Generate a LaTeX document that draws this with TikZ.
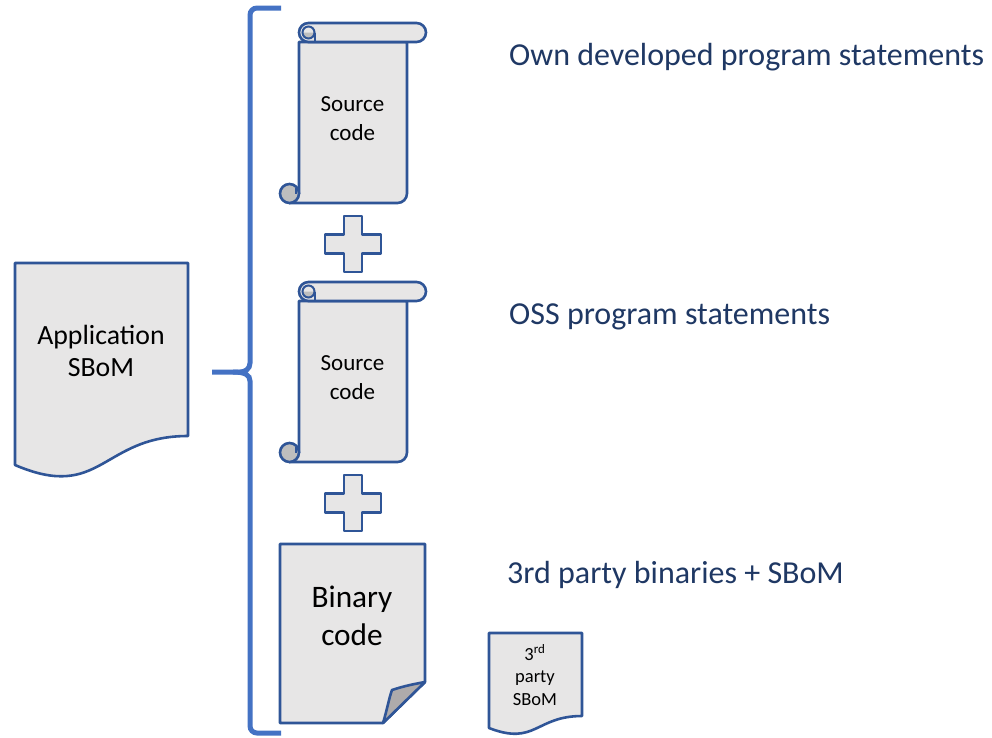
\documentclass[tikz,border=0pt]{standalone}
\usepackage{fontspec}
\setmainfont{Carlito}
\definecolor{shapeline}{RGB}{47,85,151}
\definecolor{shapefill}{RGB}{231,230,230}
\definecolor{curlgray}{RGB}{190,190,190}
\definecolor{foldgray}{RGB}{174,171,171}
\definecolor{bracecol}{RGB}{68,114,196}
\definecolor{navy}{RGB}{31,56,100}
\tikzset{
  shp/.style={draw=shapeline,fill=shapefill,line width=2.6pt,line join=round},
  thinline/.style={draw=shapeline,line width=2pt},
  bracestyle/.style={draw=bracecol,line width=5pt},
  lbl/.style={navy,anchor=base west,font=\fontsize{32}{38}\selectfont,inner sep=0pt},
  intext/.style={align=center,inner sep=0pt,text=black},
}
\begin{document}
\begin{tikzpicture}[x=1pt,y=-1pt]
\useasboundingbox (0,0) rectangle (992,737);
\fill[white] (0,0) rectangle (992,737);

% brace
\draw[bracestyle,rounded corners=7] (281,8) -- (250,8) -- (250,356)
  .. controls (250,369) and (245,372) .. (233,372) -- (212,372);
\draw[bracestyle,rounded corners=7] (233,372) .. controls (245,372) and (250,375) .. (250,388)
  -- (250,733) -- (281,733);

% Application SBoM document shape
\draw[shp] (15,263) -- (188,263) -- (188,436)
  .. controls (101.5,436) and (101.5,502) .. (15,465) -- cycle;
\node[intext,name=app,font=\fontsize{27.8}{32}\selectfont] at (101,351) {Application\\SBoM};

% scrolls
\foreach \t in {23,282}{
\begin{scope}[shift={(280,\t)}]
  \draw[shp] (19,19) -- (19,170.5) -- (9.5,180) -- (117.5,180)
     arc (90:0:9.5) -- (127,19) -- cycle;
  \draw[shp,fill=curlgray] (9.5,170.5) circle (9.5);
  \draw[thinline] (16,170.5) -- (16,165);
  \draw[shp,rounded corners=9.5] (19,0) rectangle (146,19);
  \fill[curlgray] (28.5,9.5) ++(0:6) arc (0:180:6) -- cycle;
  \draw[thinline] (28.5,9.5) circle (6);
  \draw[thinline] (34.5,9.5) -- (34.5,19);
\end{scope}
}
\node[intext,name=src1,font=\fontsize{23}{29}\selectfont] at (352.5,118.5) {Source\\code};
\node[intext,name=src2,font=\fontsize{23}{29}\selectfont] at (352.5,377.5) {Source\\code};

% plus signs
\foreach \cy in {244,503}{
  \draw[shp] (344,\cy-28) -- (362,\cy-28) -- (362,\cy-9.5) -- (381,\cy-9.5)
   -- (381,\cy+9.5) -- (362,\cy+9.5) -- (362,\cy+28) -- (344,\cy+28) -- (344,\cy+9.5)
   -- (325,\cy+9.5) -- (325,\cy-9.5) -- (344,\cy-9.5) -- cycle;
}

% Binary code folded corner
\draw[shp] (280,544) -- (425,544) -- (425,682) -- (383,723) -- (280,723) -- cycle;
\draw[shp,fill=foldgray]
  (383,723) .. controls (387,710) and (389,698) .. (392,690) .. controls (404,686) and (414,684) .. (425,682) -- cycle;
\node[intext,name=bin,font=\fontsize{31.3}{38}\selectfont] at (352,616) {Binary\\code};

% 3rd party SBoM
\draw[shp] (489,633) -- (582,633) -- (582,716)
  .. controls (535.5,716) and (535.5,746) .. (489,728) -- cycle;
\node[intext,name=tps,font=\fontsize{18.5}{22.5}\selectfont] at (535,675) {3\textsuperscript{rd}\\party\\SBoM};

% labels
\node[lbl,name=l1] at (509,65) {Own developed program statements};
\node[lbl,name=l2] at (509,324) {OSS program statements};
\node[lbl,name=l3] at (507,583) {3rd party binaries + SBoM};
\end{tikzpicture}
\end{document}
